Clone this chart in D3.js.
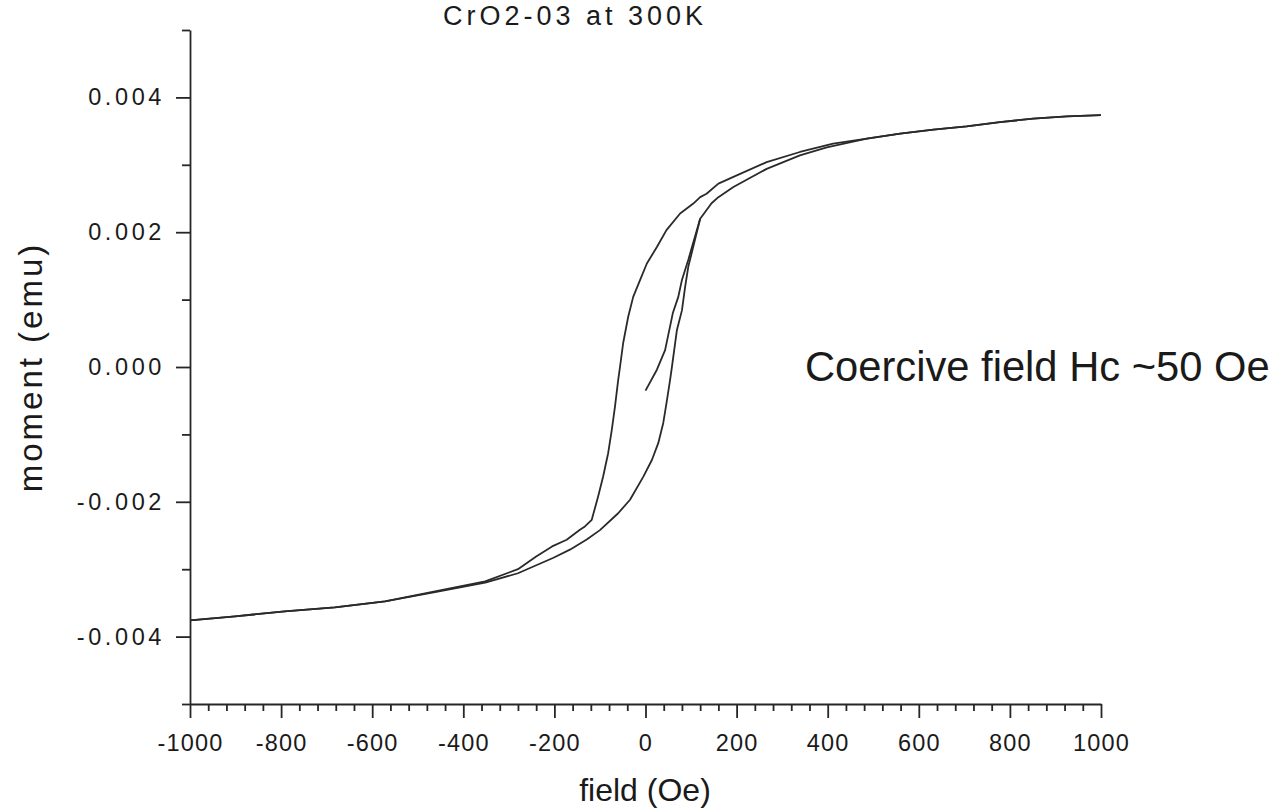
<!DOCTYPE html>
<html>
<head>
<meta charset="utf-8">
<script src="https://cdn.jsdelivr.net/npm/d3@7"></script>
<style>
  html, body { margin: 0; padding: 0; background: #fff; }
  svg text { font-family: "Liberation Sans", Arial, sans-serif; fill: #1a1a1a; }
</style>
</head>
<body>
<svg id="chart" width="1286" height="810"></svg>
<script>
// ---- data (field in Oe, moment in emu) ----
const titleText = "CrO2-03 at 300K";
const xLabelText = "field (Oe)";
const yLabelText = "moment (emu)";
const noteText = "Coercive field Hc ~50 Oe";

const xMajorTicks = [-1000, -800, -600, -400, -200, 0, 200, 400, 600, 800, 1000];
const yMajorTicks = [-0.004, -0.002, 0.000, 0.002, 0.004];

// initial (virgin) magnetisation curve
const virginCurve = [
  [0, -0.00035], [25, -0.00004], [43, 0.00025], [60, 0.0008], [72, 0.00104],
  [80, 0.00129], [94, 0.00159], [102, 0.00178], [120, 0.0022]
];

// descending branch, +1000 -> -1000 Oe
const descendingBranch = [
  [1000, 0.003738], [925, 0.003719], [851, 0.003684], [778, 0.003634], [705, 0.00357],
  [632, 0.003522], [559, 0.003462], [486, 0.003388], [412, 0.003314], [339, 0.00319],
  [266, 0.00304], [193, 0.00282], [160, 0.00272], [134, 0.00257], [120, 0.00252],
  [105, 0.002425], [76, 0.002277], [46, 0.00203], [25, 0.00178], [3, 0.001536],
  [-12, 0.001289], [-27, 0.00104], [-38, 0.000745], [-49, 0.000356], [-56, 0.0],
  [-60, -0.000193], [-67, -0.000588], [-74, -0.000933], [-82, -0.001279], [-93, -0.001625],
  [-104, -0.001921], [-118, -0.002267], [-133, -0.002366], [-144, -0.002415], [-173, -0.002563],
  [-205, -0.002662], [-240, -0.00281], [-280, -0.0030], [-352, -0.00318], [-462, -0.003329],
  [-572, -0.003477], [-682, -0.003566], [-792, -0.003625], [-901, -0.0037], [-1000, -0.003758]
];

// ascending branch, -1000 -> +1000 Oe
const ascendingBranch = [
  [-1000, -0.003758], [-901, -0.0037], [-792, -0.003625], [-682, -0.003566], [-572, -0.003477],
  [-462, -0.00334], [-352, -0.0032], [-280, -0.00306], [-202, -0.00283], [-166, -0.00271],
  [-129, -0.00256], [-100, -0.00242], [-60, -0.00217], [-34, -0.00197], [-5, -0.00163],
  [14, -0.00138], [28, -0.00113], [39, -0.00083], [46, -0.00054], [54, -0.00019],
  [58, 0.0], [69, 0.00055], [80, 0.00084], [87, 0.00119], [94, 0.00149],
  [101, 0.00168], [112, 0.00198], [120, 0.0022], [145, 0.00243], [160, 0.00252],
  [193, 0.00267], [266, 0.00294], [339, 0.00314], [398, 0.00326], [486, 0.003388],
  [559, 0.003462], [632, 0.003522], [705, 0.00357], [778, 0.003634], [851, 0.003684],
  [925, 0.003719], [1000, 0.003738]
];

// ---- layout ----
const svg = d3.select("#chart");
const x = d3.scaleLinear().domain([-1000, 1000]).range([190, 1101]);
const y = d3.scaleLinear().domain([-0.005, 0.005]).range([704, 30]);

const axisColor = "#262626";
const fmtY = d => d.toFixed(3);
const fmtX = d => String(d);

// minor ticks
const xMinor = d3.range(-1000, 1001, 40).filter(v => v % 200 !== 0);
const yMinor = d3.range(-5, 6, 2).map(v => v / 1000);

// bottom axis
const gx = svg.append("g").attr("transform", `translate(0,${y(-0.005)})`);
gx.call(d3.axisBottom(x).tickValues(xMajorTicks).tickFormat(fmtX).tickSize(14).tickPadding(16).tickSizeOuter(0));
gx.append("g").call(d3.axisBottom(x).tickValues(xMinor).tickFormat("").tickSize(7).tickSizeOuter(0))
  .select(".domain").remove();

// left axis
const gy = svg.append("g").attr("transform", `translate(${x(-1000)},0)`);
gy.call(d3.axisLeft(y).tickValues(yMajorTicks).tickFormat(fmtY).tickSize(14).tickPadding(11).tickSizeOuter(0));
gy.append("g").call(d3.axisLeft(y).tickValues(yMinor).tickFormat("").tickSize(8).tickSizeOuter(0))
  .select(".domain").remove();

svg.selectAll(".domain, .tick line").attr("stroke", axisColor).attr("stroke-width", 1.8);
svg.selectAll(".tick text")
  .style("font-family", '"Liberation Sans", Arial, sans-serif')
  .style("font-size", "23.5px")
  .attr("fill", "#1a1a1a");
gx.selectAll(".tick text").style("letter-spacing", "1.2px");
gy.selectAll(".tick text").style("letter-spacing", "3.6px");

// curves
const line = d3.line().x(d => x(d[0])).y(d => y(d[1]));
const curveGroup = svg.append("g").attr("fill", "none").attr("stroke", "#2a2a2a")
  .attr("stroke-width", 1.8).attr("stroke-linejoin", "round");
[virginCurve, descendingBranch, ascendingBranch].forEach(data => {
  curveGroup.append("path").datum(data).attr("d", line);
});

// titles
svg.append("text").attr("x", 575).attr("y", 25).attr("text-anchor", "middle")
  .style("font-size", "27px").style("letter-spacing", "4px").text(titleText);
svg.append("text").attr("x", 645).attr("y", 801).attr("text-anchor", "middle")
  .style("font-size", "32px").text(xLabelText);
svg.append("text").attr("transform", "translate(42,367) rotate(-90)").attr("text-anchor", "middle")
  .style("font-size", "33px").style("letter-spacing", "3px").text(yLabelText);
svg.append("text").attr("x", 805).attr("y", 381)
  .style("font-size", "41.7px").attr("fill", "#000").text(noteText);
</script>
</body>
</html>
